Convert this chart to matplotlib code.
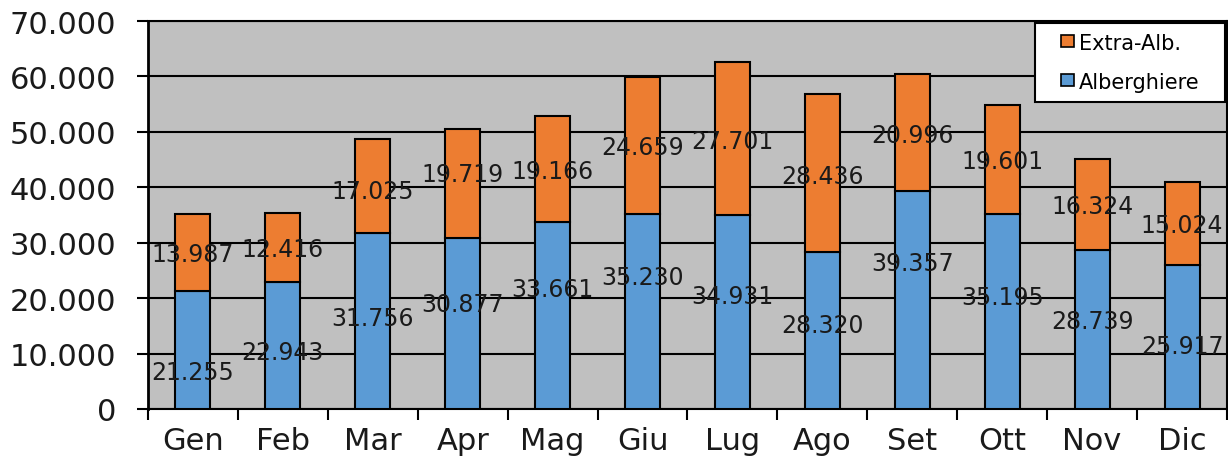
import matplotlib
matplotlib.use("Agg")
import matplotlib.pyplot as plt
from matplotlib.patches import Patch, Rectangle
from matplotlib.ticker import FuncFormatter, FixedLocator
import numpy as np

months = ["Gen", "Feb", "Mar", "Apr", "Mag", "Giu", "Lug", "Ago", "Set", "Ott", "Nov", "Dic"]
alberghiere = [21255, 22943, 31756, 30877, 33661, 35230, 34931, 28320, 39357, 35195, 28739, 25917]
extra_alb = [13987, 12416, 17025, 19719, 19166, 24659, 27701, 28436, 20996, 19601, 16324, 15024]
# data-label vertical anchors (in data units), as they appear in the original
label_y_alb = [6620, 10230, 16360, 18940, 21650, 23750, 20440, 15150, 26280, 20150, 15930, 11420]
label_y_extra = [27960, 28865, 39390, 42400, 43000, 47210, 48400, 42090, 49430, 44800, 36680, 33190]
y_ticks = [0, 10000, 20000, 30000, 40000, 50000, 60000, 70000]

c_blue = "#5B9BD5"
c_orange = "#ED7D31"
bg = "#C0C0C0"

plt.rcParams['font.family'] = ['DejaVu Sans']

fig = plt.figure(figsize=(12.28, 4.6), dpi=100)
ax = fig.add_axes([148/1228, 1 - 410/460, 1 - 148/1228 - 1/1228, (410-22)/460])
ax.set_facecolor(bg)

x = np.arange(len(months))
w = 0.39
ax.bar(x, alberghiere, width=w, color=c_blue, edgecolor="black", linewidth=1.5, zorder=3)
ax.bar(x, extra_alb, width=w, bottom=alberghiere, color=c_orange, edgecolor="black", linewidth=1.5, zorder=3)

def fmt(v):
    return f"{int(v):,}".replace(",", ".")

for i in range(len(months)):
    ax.text(x[i], label_y_alb[i], fmt(alberghiere[i]), ha="center", va="center",
            fontsize=17, color="#1a1a1a", zorder=5)
    ax.text(x[i], label_y_extra[i], fmt(extra_alb[i]), ha="center", va="center",
            fontsize=17, color="#1a1a1a", zorder=5)

ax.set_xlim(-0.5, len(months) - 0.5)
ax.set_ylim(0, 70000)
ax.set_yticks(y_ticks)
ax.yaxis.set_major_formatter(FuncFormatter(lambda v, p: fmt(v)))
ax.grid(axis="y", color="black", linewidth=1.5, zorder=1)
ax.set_axisbelow(True)

ax.set_xticks(x)
ax.set_xticklabels(months)
ax.xaxis.set_minor_locator(FixedLocator(np.arange(-0.5, len(months), 1.0)))
ax.tick_params(axis="x", which="major", length=0, pad=12, labelsize=22, colors="#1a1a1a")
ax.tick_params(axis="x", which="minor", length=8, width=1.5, direction="out", color="black")
ax.tick_params(axis="y", which="major", length=8, width=1.5, direction="out", pad=15,
               labelsize=22, color="black", labelcolor="#1a1a1a")

for s in ax.spines.values():
    s.set_color("black")
    s.set_linewidth(1.5)
ax.spines["left"].set_linewidth(2)

# legend frame
ax.add_patch(Rectangle((0.822, 0.791), 0.176, 0.205, transform=ax.transAxes,
                       facecolor="white", edgecolor="black", linewidth=1.5,
                       zorder=9, clip_on=False))
handles = [Patch(facecolor=c_orange, edgecolor="black", linewidth=1.2, label="Extra-Alb."),
           Patch(facecolor=c_blue, edgecolor="black", linewidth=1.2, label="Alberghiere")]
leg = ax.legend(handles=handles, loc="center left", bbox_to_anchor=(0.846, 0.894),
                fontsize=15, frameon=False,
                handlelength=0.65, handleheight=0.5, handletextpad=0.2,
                labelspacing=0.9, borderpad=0, borderaxespad=0)
leg.set_zorder(10)

fig.savefig("out.png", dpi=100)
